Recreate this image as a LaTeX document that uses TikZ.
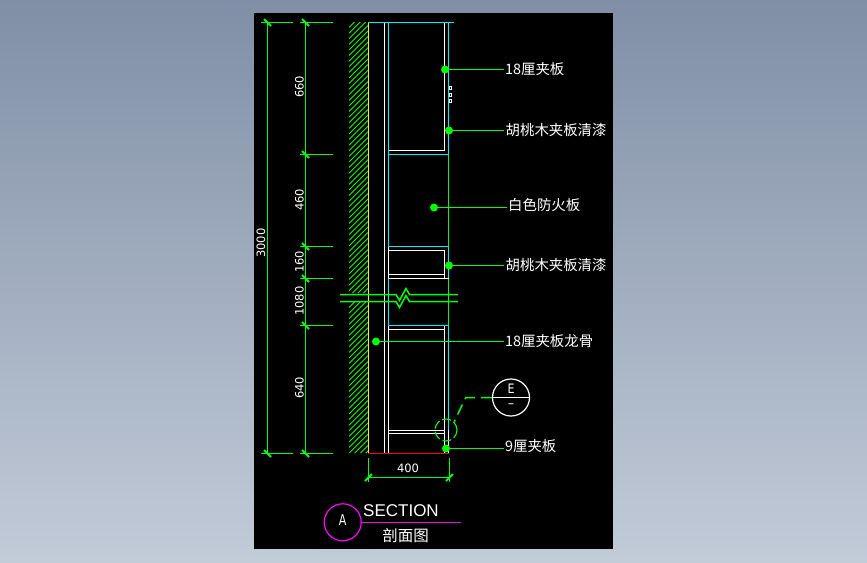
\documentclass[tikz,border=0pt]{standalone}
\usepackage{fontspec}
\setmainfont{DejaVu Sans}
\newfontfamily\cjk{Noto Sans CJK SC}
\newfontfamily\secfont{Liberation Sans}
\definecolor{cadgreen}{RGB}{0,255,0}
\definecolor{cadcyan}{RGB}{0,240,255}
\definecolor{cadmag}{RGB}{255,0,255}
\definecolor{bgtop}{RGB}{128,143,166}
\definecolor{bgbot}{RGB}{194,203,216}
\tikzset{
	wht/.style={draw=white,line width=1.5pt},
	cyn/.style={draw=cadcyan,line width=1.5pt},
	grn/.style={draw=cadgreen,line width=1.5pt},
	dimtxt/.style={text=white,inner sep=0pt,font=\fontsize{11.5}{12}\selectfont},
	tagtxt/.style={text=white,inner sep=1.5pt,anchor=west,font=\cjk\fontsize{14.4}{16}\selectfont},
	dotmark/.style={circle,fill=cadgreen,inner sep=0pt,minimum size=8pt},
	tick/.style={draw=cadgreen,line width=2pt},
}
\begin{document}
\begin{tikzpicture}[x=1pt,y=-1pt]
	\useasboundingbox (0,0) rectangle (867,562);
	\shade[top color=bgtop,bottom color=bgbot] (0,0) rectangle (867,562);
	\fill[black] (254,13) rectangle (613,549);

	% wall hatch
	\begin{scope}
		\clip (349,22) rectangle (368,293) (349,302) rectangle (368,453);
		\foreach \i in {0,5.6,...,460}
			\draw[cadgreen,line width=0.9pt] (349,{22+\i}) -- (369,{2+\i});
	\end{scope}
	\draw[yellow,line width=1.5pt] (368.5,22) -- (368.5,453);
	\draw[red,line width=1.2pt] (368,453.5) -- (449,453.5);

	% section lines
	\draw[wht] (384.5,23) -- (384.5,453);
	\draw[cyn] (368,22.5) -- (454,22.5);
	\draw[cyn] (388.5,23) -- (388.5,246.5) -- (448.5,246.5) -- (448.5,278.5);
	\draw[wht] (388.5,247) -- (388.5,278.5) -- (448.5,278.5);
	\draw[wht] (388.5,250.5) -- (444.5,250.5) -- (444.5,278.5);
	\draw[wht] (388.5,274.5) -- (444.5,274.5);
	\draw[cyn] (388.5,278.5) -- (388.5,325.5) -- (448.5,325.5) -- (448.5,430);
	\draw[wht] (388.5,326) -- (388.5,453);
	\draw[wht] (388.5,329.5) -- (444.5,329.5);
	\draw[wht] (444.5,326) -- (444.5,453);
	\draw[wht] (388.5,430.5) -- (444.5,430.5);
	\draw[wht] (388.5,433.5) -- (444.5,433.5);
	\draw[draw=white,line width=0.6pt] (448.5,430) -- (448.5,453);
	\draw[wht] (444.5,23) -- (444.5,150.5) -- (388.5,150.5);
	\draw[cyn] (448.5,22.5) -- (448.5,154.5) -- (388.5,154.5);
	\draw[grn] (448.5,154.5) -- (448.5,246.5);
	\draw[grn] (448.5,278.5) -- (448.5,325.5);

	% small marks
	\foreach \y in {87.5,94.5,100.5}
		\draw[draw=white,line width=0.9pt] (449.5,\y-1.5) rectangle (451.5,\y+1.5);

	% break lines
	\foreach \y in {294.5,301.5}
		\draw[grn] (340,\y) -- (396,\y) -- (399.5,\y+6) -- (406,\y-6) -- (409.5,\y) -- (458,\y);

	% height dimensions
	\draw[grn] (267.5,22) -- (267.5,453);
	\draw[grn] (305.5,22) -- (305.5,453);
	\foreach \y in {22.5,453.5}{
		\draw[grn] (261,\y) -- (293,\y);
		\draw[tick] (264,\y-3.5) -- (271,\y+3.5);
	}
	\foreach \y in {22.5,154.5,246.5,278.5,325.5,453.5}{
		\draw[grn] (300,\y) -- (333,\y);
		\draw[tick] (302,\y-3.5) -- (309,\y+3.5);
	}
	\node[dimtxt,rotate=90] (dimA) at (299.5,87) {660};
	\node[dimtxt,rotate=90] (dimB) at (299.5,200) {460};
	\node[dimtxt,rotate=90] (dimC) at (299.5,262) {160};
	\node[dimtxt,rotate=90] (dimD) at (299.5,301) {1080};
	\node[dimtxt,rotate=90] (dimE) at (299.5,388) {640};
	\node[dimtxt,rotate=90] (dimAll) at (261,243) {3000};

	% width dimension
	\coordinate (wdL) at (368.5,477.5);
	\coordinate (wdR) at (449.5,477.5);
	\draw[grn] (wdL) -- (wdR);
	\draw[grn] (368.5,458) -- (368.5,482);
	\draw[grn] (449.5,458) -- (449.5,482);
	\draw[tick] (365,481) -- (372,474);
	\draw[tick] (446,481) -- (453,474);
	\node[dimtxt] (dimW) at (408,468) {400};

	% leaders
	\node[dotmark] (dotA) at (445,69.5) {};
	\node[tagtxt] (tagA) at (503.5,69.5) {18厘夹板};
	\draw[grn] (dotA) -- (tagA);
	\node[dotmark] (dotB) at (449,130.5) {};
	\node[tagtxt] (tagB) at (504,130.5) {胡桃木夹板清漆};
	\draw[grn] (dotB) -- (tagB);
	\node[dotmark] (dotC) at (434,207.5) {};
	\node[tagtxt] (tagC) at (506.5,205) {白色防火板};
	\draw[grn] (dotC) -- (tagC.west |- dotC);
	\node[dotmark] (dotD) at (449,265.5) {};
	\node[tagtxt] (tagD) at (504,265.5) {胡桃木夹板清漆};
	\draw[grn] (dotD) -- (tagD);
	\node[dotmark] (dotE) at (376,341.5) {};
	\node[tagtxt] (tagE) at (503.5,341.5) {18厘夹板龙骨};
	\draw[grn] (dotE) -- (tagE);
	\node[dotmark] (dotF) at (446,448.5) {};
	\node[tagtxt] (tagF) at (503.5,446.5) {9厘夹板};
	\draw[grn] (dotF) -- (tagF.west |- dotF);

	% detail bubble
	\node[circle,draw=white,line width=1.2pt,minimum size=37pt,inner sep=0pt] (bubE) at (511,397.5) {};
	\draw[wht] (bubE.west) -- (bubE.east);
	\node[text=white,inner sep=0pt,xscale=0.85,font=\fontsize{13}{14}\selectfont] (txtE) at (511,389) {E};
	\node[text=white,inner sep=0pt,xscale=1.6,font=\fontsize{12}{13}\selectfont] (txtDash) at (511,406) {-};
	\node[circle,draw=cadgreen,dash pattern=on 9pt off 3pt,line width=1.1pt,minimum size=22pt,inner sep=0pt] (bubD) at (446,430) {};
	\coordinate (kneeE) at (465.7,397.5);
	\draw[grn,dash pattern=on 11pt off 6pt] (bubE.west) -- (kneeE) -- (bubD.north east);

	% title
	\node[circle,draw=cadmag,line width=1.2pt,minimum size=37pt,inner sep=0pt] (bubA) at (342.7,522.3) {};
	\node[text=white,inner sep=0pt,xscale=0.85,yscale=1.15,font=\fontsize{13}{14}\selectfont] (txtA) at (342.7,520.5) {A};
	\coordinate (ruleEnd) at (461,522.5);
	\draw[draw=cadmag,line width=1.5pt] (bubA.east |- ruleEnd) -- (ruleEnd);
	\node[text=white,inner sep=0pt,anchor=west,font=\secfont\fontsize{17}{18}\selectfont] (txtSec) at (363,510.5) {SECTION};
	\node[text=white,inner sep=0pt,font=\cjk\fontsize{15.5}{16}\selectfont] (txtCut) at (405.5,535.5) {剖面图};
\end{tikzpicture}
\end{document}
